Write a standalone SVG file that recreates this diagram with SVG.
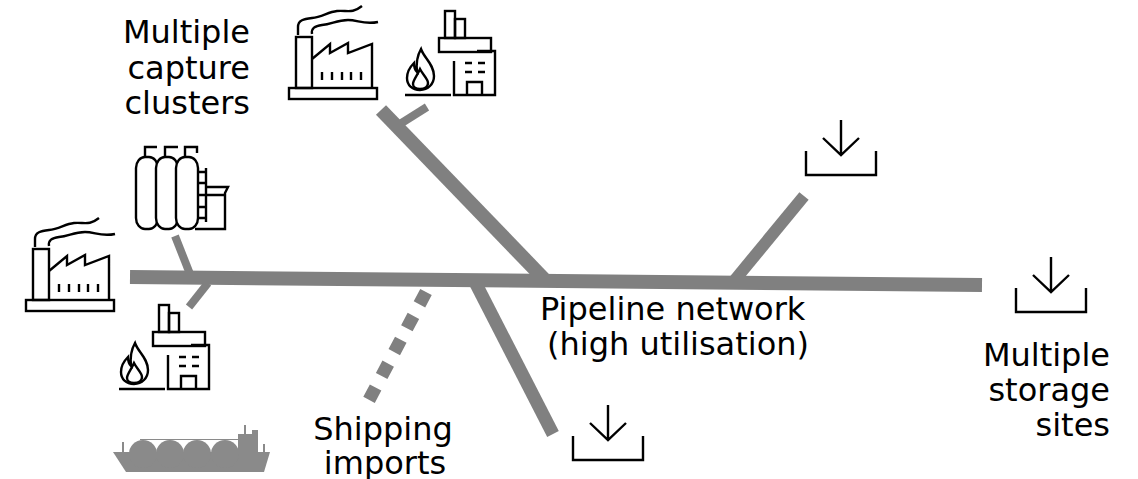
<svg xmlns="http://www.w3.org/2000/svg" xmlns:xlink="http://www.w3.org/1999/xlink" width="1138" height="479" viewBox="0 0 1138 479">
  <style>
    .pipe { stroke: #808080; fill: none; stroke-linecap: butt; }
    .icon { stroke: #000; stroke-width: 2.4; fill: none; stroke-linejoin: miter; }
    .iconw { stroke: #000; stroke-width: 2.4; fill: #fff; }
    .label { font-family: "DejaVu Sans", Verdana, sans-serif; font-size: 32px; fill: #000; }
  </style>
  <defs>
    <!-- factory with smoking chimney -->
    <g id="factory" class="icon">
      <rect x="289" y="88" width="88" height="11"/>
      <rect x="296" y="37" width="16" height="51"/>
      <path d="M312,59 L330,44 V53 L348,43 V53 L372,44 V88"/>
      <path d="M322,72 V80 M332,72 V80 M342,72 V80 M351,72 V80 M361,72 V80"/>
      <path d="M298,35 V27 C298,20 304,19 312,18 C322,17 328,12 337,11 C347,10 352,14 362,6"/>
      <path d="M312,34 C311,28 315,26 322,25 C332,24 337,20 348,20 C358,20 364,25 378,22"/>
    </g>
    <!-- gas-fired plant -->
    <g id="plant" class="icon">
      <rect x="445" y="11" width="10" height="27"/>
      <rect x="455" y="19" width="10" height="19"/>
      <rect x="439" y="38" width="52" height="14"/>
      <path d="M477,51 H495 V95 H454 V61"/>
      <path d="M405,95 H451"/>
      <path d="M467,95 V82 H482 V95"/>
      <path d="M465,63 H472 M478,63 H485 M465,72 H472 M478,72 H485"/>
      <path d="M421,49 C424,58 434,64 434,76 C434,84 428,90 420,90 C412,90 407,85 407,78 C407,72 410,67 414,63 C414,67 415,70 417,72 C416,63 417,56 421,49 Z"/>
      <path d="M420,69 C423,75 428,79 428,83 C428,87 424,89 420,89 C416,89 413,87 413,84 C413,80 417,76 420,69 Z"/>
    </g>
    <!-- storage site: arrow into tray -->
    <g id="store" class="icon" stroke-width="2.8">
      <path d="M0,-35 V0 M-18,-17 L0,0 L18,-17"/>
      <path d="M-35,-4 V20 H35 V-4"/>
    </g>
    <filter id="soft" x="-5%" y="-5%" width="110%" height="110%">
      <feGaussianBlur stdDeviation="0.6"/>
    </filter>
  </defs>

  <!-- pipelines -->
  <g id="connectors">
    <line class="pipe" x1="130" y1="277" x2="982" y2="285" stroke-width="14"/>
    <line class="pipe" x1="381" y1="110" x2="546" y2="281" stroke-width="14"/>
    <line class="pipe" x1="400" y1="124" x2="427" y2="107" stroke-width="8"/>
    <line class="pipe" x1="804" y1="196" x2="734" y2="281" stroke-width="12"/>
    <line class="pipe" x1="474" y1="280" x2="553" y2="434" stroke-width="13"/>
    <line class="pipe" x1="426" y1="292" x2="369" y2="400" stroke-width="13" stroke-dasharray="14 13"/>
    <line class="pipe" x1="175" y1="236" x2="190" y2="274" stroke-width="8"/>
    <line class="pipe" x1="208" y1="283" x2="189" y2="307" stroke-width="8"/>
  </g>

  <!-- capture clusters -->
  <g id="factory-top"><use xlink:href="#factory"/></g>
  <g id="plant-top"><use xlink:href="#plant"/></g>
  <g id="factory-left"><use xlink:href="#factory" transform="translate(-263,212)"/></g>
  <g id="plant-left"><use xlink:href="#plant" transform="translate(-286,294)"/></g>

  <g id="capture-vessels" class="icon">
    <rect class="iconw" x="136" y="157" width="22" height="72" rx="9" ry="11"/>
    <rect class="iconw" x="156" y="157" width="22" height="72" rx="9" ry="11"/>
    <rect class="iconw" x="176" y="157" width="22" height="72" rx="9" ry="11"/>
    <path d="M145,157 V147 H157 M165,157 V147 H178 M185,157 V147 H197 V153"/>
    <path d="M206,168 V222 M198,172 H206 M198,183 H206 M198,195 H206 M198,207 H206 M198,218 H206"/>
    <path d="M206,187 H228 L225,193 V229 H195 M206,195 H225"/>
  </g>

  <!-- LNG carrier -->
  <g id="ship" fill="#8a8a8a" filter="url(#soft)">
    <path d="M113,452 H270 L264,472 H126 Z"/>
    <circle cx="143" cy="454" r="14"/>
    <circle cx="170" cy="454" r="14"/>
    <circle cx="197" cy="454" r="14"/>
    <circle cx="225" cy="454" r="14"/>
    <rect x="238" y="434" width="16" height="20"/>
    <rect x="252" y="430" width="6" height="24"/>
    <rect x="244" y="425" width="2" height="12"/>
    <rect x="122" y="442" width="2" height="11"/>
    <rect x="263" y="444" width="2" height="9"/>
    <line x1="140" y1="439.5" x2="240" y2="439.5" stroke="#8a8a8a" stroke-width="1"/>
  </g>

  <!-- storage sites -->
  <g id="store-upper"><use xlink:href="#store" transform="translate(841,155)"/></g>
  <g id="store-right"><use xlink:href="#store" transform="translate(1051,292)"/></g>
  <g id="store-lower"><use xlink:href="#store" transform="translate(608,440)"/></g>

  <!-- labels -->
  <g id="label-capture" class="label" text-anchor="end">
    <text x="250" y="43">Multiple</text>
    <text x="250" y="79">capture</text>
    <text x="250" y="114">clusters</text>
  </g>
  <g id="label-pipeline" class="label">
    <text x="540" y="320">Pipeline network</text>
    <text x="547" y="355">(high utilisation)</text>
  </g>
  <g id="label-shipping" class="label" text-anchor="middle">
    <text x="383" y="440">Shipping</text>
    <text x="385" y="474">imports</text>
  </g>
  <g id="label-storage" class="label" text-anchor="end">
    <text x="1110" y="366">Multiple</text>
    <text x="1110" y="401">storage</text>
    <text x="1110" y="436">sites</text>
  </g>
</svg>
